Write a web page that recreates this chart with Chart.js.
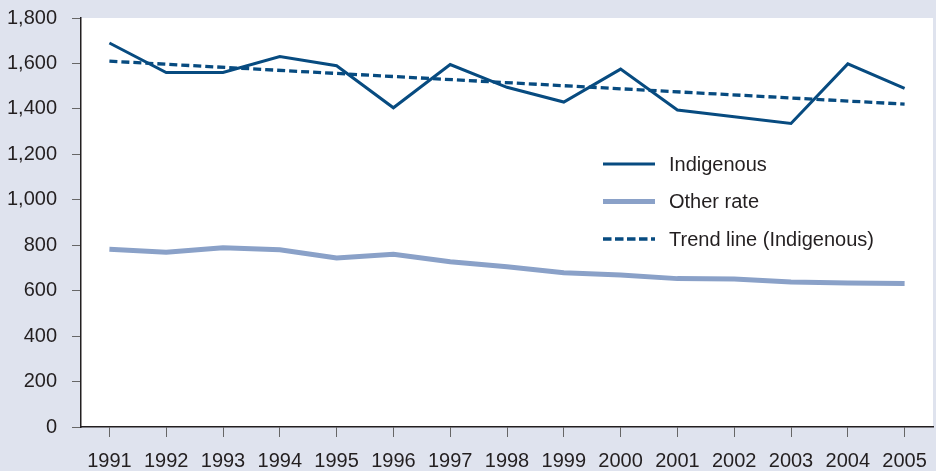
<!DOCTYPE html>
<html>
<head>
<meta charset="utf-8">
<script src="https://cdn.jsdelivr.net/npm/chart.js@4/dist/chart.umd.min.js"></script>
<style>
  html, body { margin: 0; padding: 0; background: #dfe3ee; }
  #wrap { width: 936px; height: 471px; position: relative; }
</style>
</head>
<body>
<div id="wrap"><canvas id="myChart" width="936" height="471"></canvas></div>
<script>
// data
const years = ['1991','1992','1993','1994','1995','1996','1997','1998','1999','2000','2001','2002','2003','2004','2005'];
const indigenous = [1690, 1560, 1560, 1630, 1590, 1405, 1595, 1495, 1430, 1575, 1395, 1365, 1336, 1598, 1490];
const otherRate = [782, 769, 789, 780, 744, 760, 727, 705, 679, 669, 653, 651, 638, 634, 631];
// trend line: only the two ends, a straight line between them
const trend = [1610, null, null, null, null, null, null, null, null, null, null, null, null, null, 1421];
const yTicks = [0, 200, 400, 600, 800, 1000, 1200, 1400, 1600, 1800];

const darkBlue = '#074b80';
const lightBlue = '#8aa1c8';
const txt = '#231f20';
const fontFam = '"Liberation Sans", Arial, sans-serif';

// white plot area + legend drawn inside the chart
const plotBg = {
  id: 'plotBg',
  beforeDraw(chart) {
    const {ctx, chartArea: a} = chart;
    ctx.save();
    ctx.fillStyle = '#ffffff';
    ctx.fillRect(a.left, a.top, a.right - a.left, a.bottom - a.top);
    ctx.restore();
  }
};

const legendInside = {
  id: 'legendInside',
  afterDraw(chart) {
    const ctx = chart.ctx;
    const items = [
      {text: 'Indigenous', color: darkBlue, width: 3, dash: []},
      {text: 'Other rate', color: lightBlue, width: 5, dash: []},
      {text: 'Trend line (Indigenous)', color: darkBlue, width: 3.3, dash: [8.5, 3.5]}
    ];
    ctx.save();
    ctx.font = '20px ' + fontFam;
    ctx.textBaseline = 'middle';
    items.forEach((it, i) => {
      const y = 164 + i * 37.5;
      ctx.beginPath();
      ctx.setLineDash(it.dash);
      ctx.strokeStyle = it.color;
      ctx.lineWidth = it.width;
      ctx.moveTo(603, y);
      ctx.lineTo(655, y);
      ctx.stroke();
      ctx.setLineDash([]);
      ctx.fillStyle = txt;
      ctx.fillText(it.text, 669, y + 1);
    });
    ctx.restore();
  }
};

const data = {
  labels: years,
  datasets: [
    {
      label: 'Other rate',
      data: otherRate,
      borderColor: lightBlue,
      borderWidth: 5,
      pointRadius: 0,
      tension: 0
    },
    {
      label: 'Trend line (Indigenous)',
      data: trend,
      borderColor: darkBlue,
      borderWidth: 3.3,
      borderDash: [8, 4],
      pointRadius: 0,
      spanGaps: true
    },
    {
      label: 'Indigenous',
      data: indigenous,
      borderColor: darkBlue,
      borderWidth: 3,
      pointRadius: 0,
      tension: 0
    }
  ]
};

const config = {
  type: 'line',
  data,
  plugins: [plotBg, legendInside],
  options: {
    responsive: false,
    animation: false,
    layout: { padding: { top: 18, right: 3, left: 0, bottom: 0 } },
    plugins: {
      legend: { display: false },
      tooltip: { enabled: false }
    },
    scales: {
      x: {
        offset: true,
        grid: { drawOnChartArea: false, tickLength: 10, color: '#666', offset: false },
        border: { display: true, color: txt, width: 1.5 },
        ticks: { color: txt, font: { family: fontFam, size: 20 }, padding: 12, maxRotation: 0, autoSkip: false },
        afterFit(s) { s.height = 44; s.paddingLeft = 0; s.paddingRight = 0; }
      },
      y: {
        min: 0,
        max: 1800,
        afterBuildTicks(s) { s.ticks = yTicks.map(v => ({value: v})); },
        grid: { drawOnChartArea: false, tickLength: 9, color: '#666' },
        border: { display: true, color: txt, width: 1.5 },
        ticks: {
          color: txt,
          font: { family: fontFam, size: 20 },
          padding: 15,
          callback: v => v.toLocaleString('en-US')
        },
        afterFit(s) { s.width = 81; s.paddingTop = 0; s.paddingBottom = 0; }
      }
    }
  }
};

const chartDOM = document.getElementById('myChart');
const myChart = new Chart(chartDOM, config);
</script>
</body>
</html>
